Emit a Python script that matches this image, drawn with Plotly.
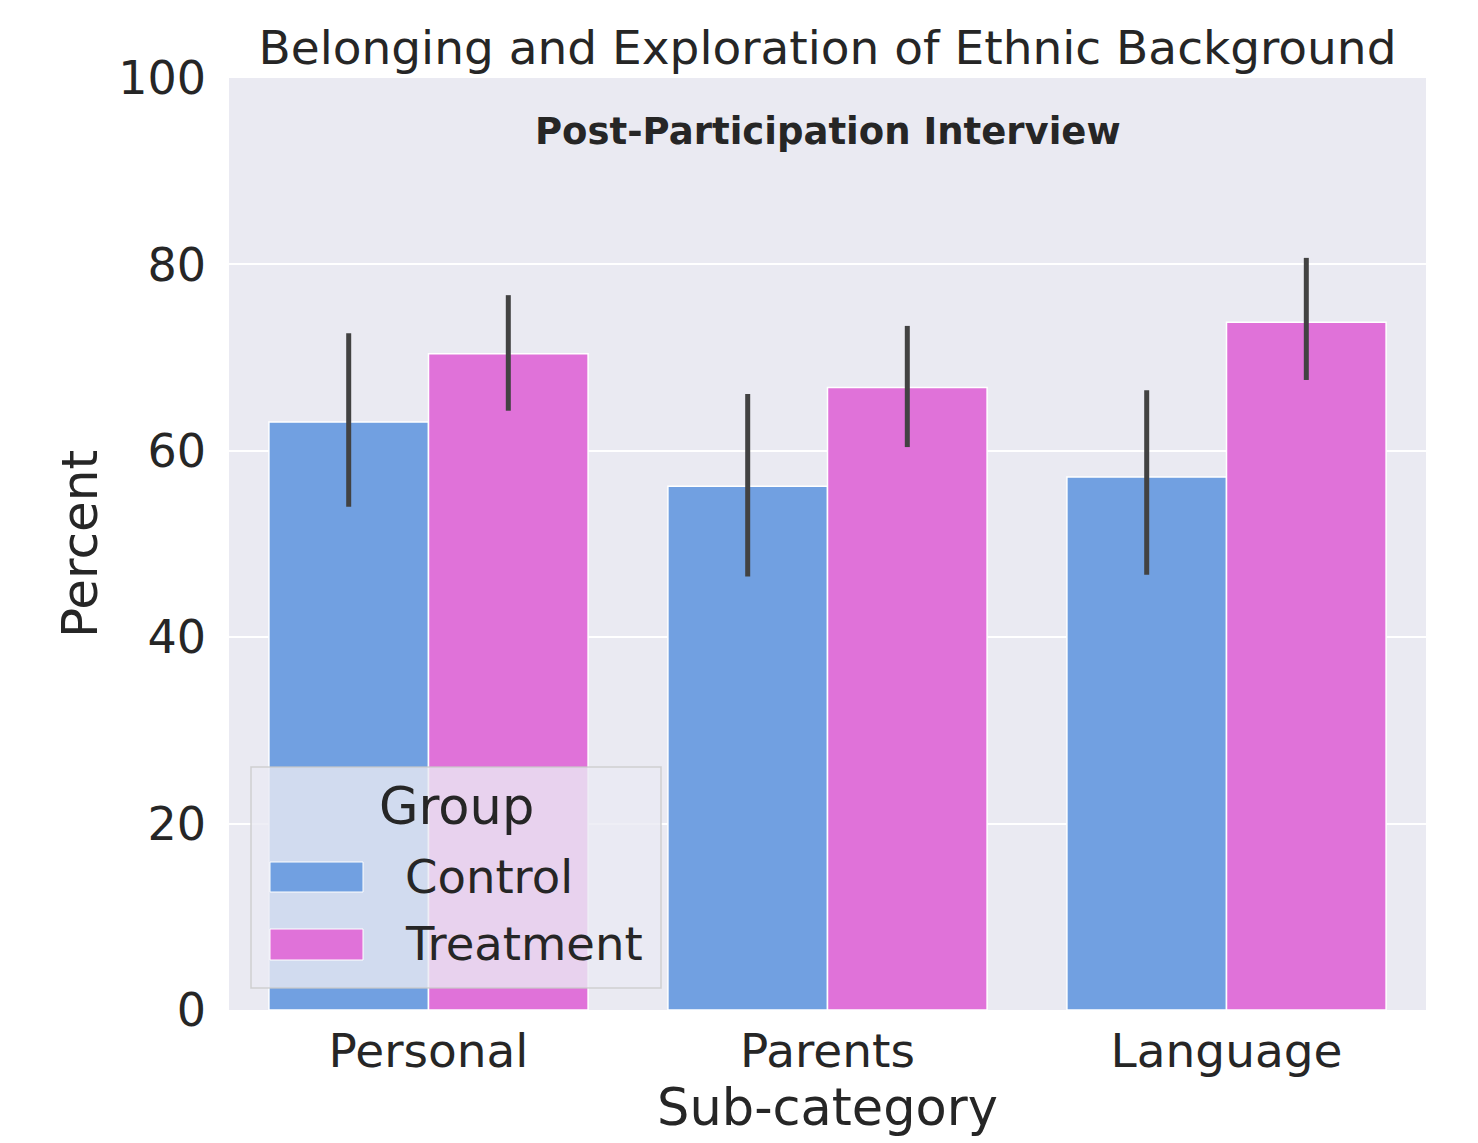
import plotly.graph_objects as go

categories = ["Personal", "Parents", "Language"]
groups = ["Control", "Treatment"]
control_vals = [63.1, 56.2, 57.2]
treatment_vals = [70.4, 66.8, 73.8]
control_lo = [54.0, 46.5, 46.7]
control_hi = [72.6, 66.1, 66.5]
treatment_lo = [64.3, 60.4, 67.6]
treatment_hi = [76.7, 73.4, 80.7]
colors = ["#71A0E1", "#E072D9"]
y_ticks = [0, 20, 40, 60, 80, 100]

FONT = "DejaVu Sans"
TXT = "#262626"

fig = go.Figure()
for name, vals, lo, hi, col in [
    (groups[0], control_vals, control_lo, control_hi, colors[0]),
    (groups[1], treatment_vals, treatment_lo, treatment_hi, colors[1]),
]:
    fig.add_trace(go.Bar(
        x=categories, y=vals, name=name,
        marker=dict(color=col, line=dict(color="white", width=1.5)),
        error_y=dict(type="data", symmetric=False,
                     array=[h - v for h, v in zip(hi, vals)],
                     arrayminus=[v - l for l, v in zip(lo, vals)],
                     color="#424242", thickness=5, width=0),
        showlegend=False,
    ))

# custom legend (matplotlib style)
def px_x(p):
    return (p - 229) / 1197

def px_y(p):
    return (1010 - p) / 932

shapes = [dict(type="rect", xref="paper", yref="paper", layer="above",
               x0=px_x(251), x1=px_x(661), y0=px_y(988), y1=px_y(767),
               fillcolor="rgba(234,234,242,0.8)", line=dict(color="rgba(200,200,200,0.8)", width=1.5))]
annotations = [
    dict(text="Post-Participation Interview", x=0.5, y=px_y(132), xref="paper", yref="paper",
         showarrow=False, font=dict(family=FONT, size=37, color=TXT, weight="bold"), yanchor="middle"),
    dict(text="Group", x=px_x(456), y=px_y(806), xref="paper", yref="paper", showarrow=False,
         font=dict(family=FONT, size=51, color=TXT), xanchor="center", yanchor="middle"),
]
sw_y = [(862, 892, 877), (929, 960, 944)]
for g, col, (top, bot, mid) in zip(groups, colors, sw_y):
    shapes.append(dict(type="rect", xref="paper", yref="paper", layer="above",
                       x0=px_x(270), x1=px_x(363), y0=px_y(bot), y1=px_y(top),
                       fillcolor=col, line=dict(color="white", width=1)))
    annotations.append(dict(text=g, x=px_x(403), y=px_y(mid), xref="paper", yref="paper",
                            showarrow=False, font=dict(family=FONT, size=46.5, color=TXT),
                            xanchor="left", yanchor="middle"))

fig.update_layout(
    width=1478, height=1143,
    margin=dict(l=229, r=52, t=78, b=133),
    paper_bgcolor="white", plot_bgcolor="#EAEAF2",
    barmode="group", bargap=0.2, bargroupgap=0,
    font=dict(family=FONT, color=TXT, size=46),
    title=dict(text="Belonging and Exploration of Ethnic Background",
               x=0.5, xref="paper", y=1 - 48 / 1143, yref="container",
               xanchor="center", yanchor="middle",
               font=dict(family=FONT, size=47, color=TXT)),
    xaxis=dict(title=dict(text="Sub-category", font=dict(size=51), standoff=6),
               showgrid=False, zeroline=False, showline=False, ticks="",
               tickfont=dict(size=47), ticklabelstandoff=9),
    yaxis=dict(title=dict(text="Percent", font=dict(size=50), standoff=4),
               range=[0, 100], tickvals=y_ticks, showgrid=True, gridcolor="white",
               gridwidth=2, zeroline=False, showline=False, ticks="",
               tickfont=dict(size=46), ticklabelstandoff=22),
    shapes=shapes, annotations=annotations,
    showlegend=False,
)

fig.write_html("out.html")
